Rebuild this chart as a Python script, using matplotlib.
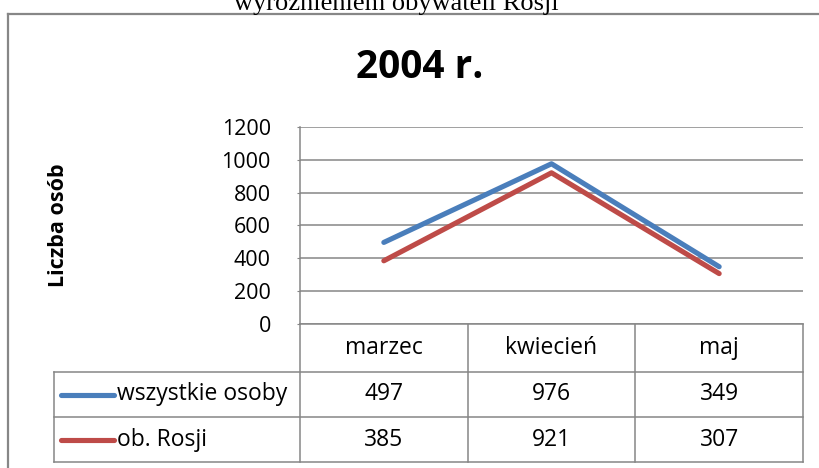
import matplotlib
matplotlib.use("Agg")
import matplotlib.pyplot as plt
from matplotlib.transforms import blended_transform_factory

# data
months = ["marzec", "kwiecień", "maj"]
all_people = [497, 976, 349]
russians = [385, 921, 307]
series_names = ["wszystkie osoby", "ob. Rosji"]
series_colors = ["#4A7EBB", "#BE4B48"]
y_ticks = [0, 200, 400, 600, 800, 1000, 1200]

plt.rcParams["font.family"] = ["Open Sans", "DejaVu Sans"]

W, H = 820, 468
GRID = "#868686"

fig = plt.figure(figsize=(W / 100, H / 100), dpi=100)

# overlay in pixel coordinates (y from the top)
over = fig.add_axes([0, 0, 1, 1])
over.set_xlim(0, W)
over.set_ylim(H, 0)
over.axis("off")

# plot area
left, right, top, bottom = 300, 803, 127, 324
ax = fig.add_axes([left / W, (H - bottom) / H, (right - left) / W, (bottom - top) / H])
ax.set_xlim(-0.5, len(months) - 0.5)
ax.set_ylim(0, 1200)
ax.set_yticks(y_ticks)
ax.set_xticks([])
ax.grid(axis="y", color=GRID, lw=1.1)
ax.set_axisbelow(True)
for s in ["top", "right"]:
    ax.spines[s].set_visible(False)
for s in ["left", "bottom"]:
    ax.spines[s].set_color(GRID)
    ax.spines[s].set_linewidth(1.1)
ax.tick_params(axis="y", length=2, color=GRID, pad=19, labelsize=15.5)

x = list(range(len(months)))
series = [all_people, russians]
for vals, col in list(zip(series, series_colors))[::-1]:
    ax.plot(x, vals, color=col, lw=3.7, solid_capstyle="round", solid_joinstyle="round")

# data table under the plot
tr = blended_transform_factory(ax.transData, over.transData)
row_lines = [bottom, 372, 417, 462]
tab_left = 54
bounds = [i - 0.5 for i in range(len(months) + 1)]
for b in bounds:
    over.plot([b, b], [bottom, row_lines[-1]], color=GRID, lw=1.1, transform=tr)
for yl in row_lines[1:]:
    over.plot([tab_left, right], [yl, yl], color=GRID, lw=1.1)
over.plot([tab_left, tab_left], [row_lines[1], row_lines[-1]], color=GRID, lw=1.1)

fs = 16.5
header_y = (row_lines[0] + row_lines[1]) / 2
for i, m in enumerate(months):
    over.text(i, header_y, m, transform=tr, ha="center", va="center", fontsize=fs)

for r, (name, vals, col) in enumerate(zip(series_names, series, series_colors)):
    cy = (row_lines[r + 1] + row_lines[r + 2]) / 2
    over.plot([61, 114], [cy, cy], color=col, lw=3.7, solid_capstyle="round")
    over.text(117, cy, name, ha="left", va="center", fontsize=fs)
    for i, v in enumerate(vals):
        over.text(i, cy, str(v), transform=tr, ha="center", va="center", fontsize=fs)

# frame and texts
over.plot([8, W], [14, 14], color="#878787", lw=1.6)
over.plot([8, 8], [14, H], color="#878787", lw=1.6)
over.text(396, 10, "wyróżnieniem obywateli Rosji", ha="center", va="baseline",
          fontsize=19, family=["Liberation Serif", "DejaVu Serif"])
over.text(420, 78, "2004 r.", ha="center", va="baseline", fontsize=28, fontweight="bold")
over.text(59, 225, "Liczba osób", ha="center", va="center", rotation=90,
          fontsize=15.5, fontweight="bold")

fig.savefig("out.png", dpi=100)
